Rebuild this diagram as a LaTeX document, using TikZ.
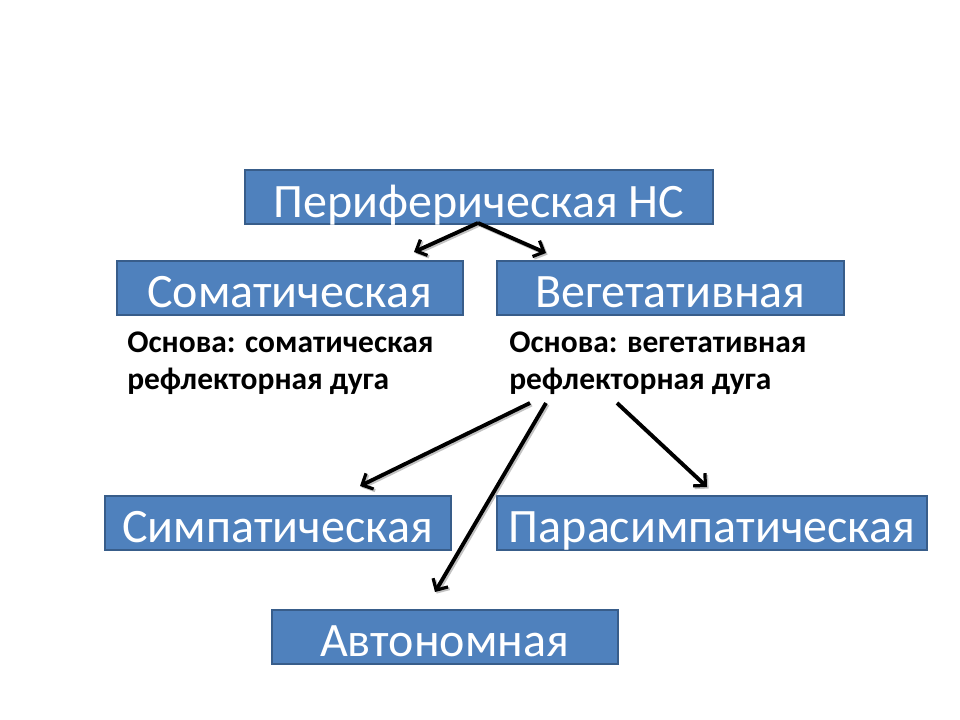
\documentclass[tikz,border=0pt]{standalone}
\usepackage{fontspec}
\setmainfont{Carlito}
\usetikzlibrary{arrows.meta}
\definecolor{boxfill}{HTML}{4F81BD}
\definecolor{boxline}{HTML}{385D8A}
\definecolor{shadowgray}{HTML}{9A9A9A}
\tikzset{
  bluebox/.style={rectangle, fill=boxfill, draw=boxline, line width=1.5pt,
    text=white, font=\fontsize{36}{43}\selectfont, inner sep=0pt,
    text height=29.8pt, text depth=0pt, minimum height=54*0.75pt},
  basis/.style={font=\bfseries\fontsize{23.6}{27.75}\selectfont, align=left,
    inner sep=0pt, anchor=base west, text=black},
  arrtip/.style={-{Straight Barb[length=6.5pt,width=13pt,line width=2.4pt]}},
  arr/.style={line width=2.9pt, arrtip},
  arrshadow/.style={line width=2.9pt, arrtip, draw=shadowgray, opacity=0.6,
    transform canvas={shift={(1.2pt,-1.2pt)}}}
}
\begin{document}
\begin{tikzpicture}[x=0.75pt,y=-0.75pt]
\useasboundingbox (0,0) rectangle (960,720);
\node[bluebox, minimum width=468*0.75pt] (per) at (479,197.5) {Периферическая НС};
\node[bluebox, minimum width=346*0.75pt] (som) at (289.5,288) {Соматическая};
\node[bluebox, minimum width=347*0.75pt] (veg) at (670.5,288) {Вегетативная};
\node[bluebox, minimum width=346*0.75pt] (sym) at (277.5,522.5) {Симпатическая};
\node[bluebox, minimum width=430*0.75pt] (para) at (712,522.5) {Парасимпатическая};
\node[bluebox, minimum width=346*0.75pt] (auto) at (444.5,637) {Автономная};
\node[basis] (sombasis) at (127,389) {Основа: соматическая\\рефлекторная дуга};
\node[basis] (vegbasis) at (509,389) {Основа: вегетативная\\рефлекторная дуга};
% connector end points
\coordinate (apex) at (478,223);
\coordinate (somtip) at (414,252);
\coordinate (vegtip) at (546,253);
\coordinate (s1) at (530,403);
\coordinate (s2) at (546,403);
\coordinate (s3) at (617,403);
\coordinate (symtip) at (360,486);
\coordinate (autotip) at (435,592);
\coordinate (paratip) at (707,487);
\foreach \a/\b in {apex/somtip, apex/vegtip, s1/symtip, s2/autotip, s3/paratip}
  \draw[arrshadow] (\a) -- (\b);
\draw[arr] (apex) -- (somtip);
\draw[arr] (apex) -- (vegtip);
\draw[arr] (s1) -- (symtip);
\draw[arr] (s2) -- (autotip);
\draw[arr] (s3) -- (paratip);
\end{tikzpicture}
\end{document}
